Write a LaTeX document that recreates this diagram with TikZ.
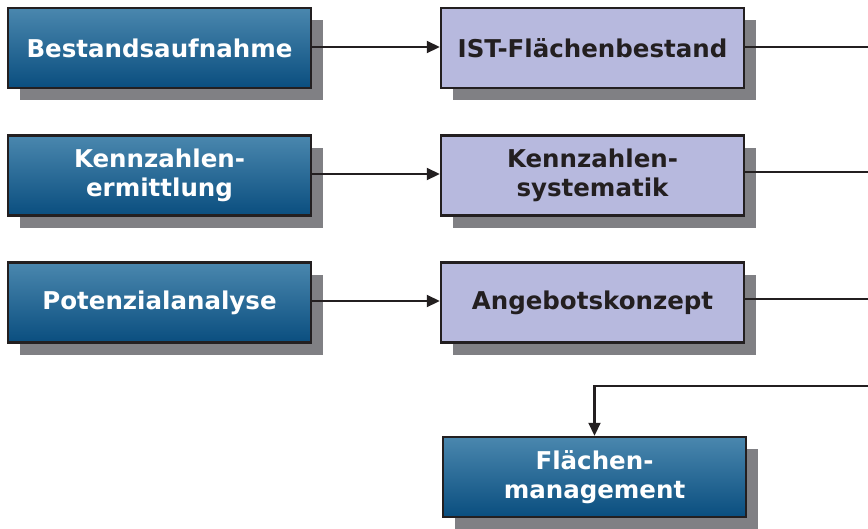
\documentclass[tikz,border=0pt]{standalone}
\usepackage{fontspec}
\setmainfont{DejaVu Sans}
\usepackage{xcolor}
\usetikzlibrary{arrows.meta,shadows}
\definecolor{boxtop}{HTML}{4A87AE}
\definecolor{boxbot}{HTML}{0A4E7F}
\definecolor{lila}{HTML}{B7B9DE}
\definecolor{shd}{HTML}{808084}
\definecolor{ink}{HTML}{231F20}
\tikzset{
  bx/.style={rectangle, draw=ink, line width=2.5pt, minimum width=303pt, minimum height=80pt,
    align=center, font=\fontsize{24.5}{29}\selectfont\bfseries,
    drop shadow={shadow xshift=12pt, shadow yshift=-12pt, fill=shd, opacity=1}},
  bluebox/.style={bx, top color=boxtop, bottom color=boxbot, text=white},
  lilabox/.style={bx, fill=lila, text=ink},
  ln/.style={draw=ink, line width=2.2pt},
  arr/.style={ln, -{Triangle[length=13pt,width=12pt]}},
  flow/.style={x=1pt, y=-1pt}
}
\begin{document}
\begin{tikzpicture}[flow]
  \useasboundingbox (0,0) rectangle (868,528);

  % Left column (blue)
  \node[bluebox] (bestand) at (159.5,48) {Bestandsaufnahme};
  \node[bluebox] (kennerm) at (159.5,175.5) {Kennzahlen-\\ermittlung};
  \node[bluebox] (potenz) at (159.5,302.5) {Potenzialanalyse};

  % Right column (lilac)
  \node[lilabox] (ist) at (592.5,48) {IST-Flächenbestand};
  \node[lilabox] (kennsys) at (592.5,175.5) {Kennzahlen-\\systematik};
  \node[lilabox] (angebot) at (592.5,302.5) {Angebotskonzept};

  % Result box
  \node[bluebox] (flaeche) at (594.5,477) {Flächen-\\management};

  % free ends on the right margin
  \coordinate (e1) at (868,47);
  \coordinate (e2) at (868,172);
  \coordinate (e3) at (868,299);
  \coordinate (e4) at (868,386);

  % arrows left -> right
  \draw[arr] (bestand.east |- 0,47) -- (ist.west |- 0,47);
  \draw[arr] (kennerm.east |- 0,174) -- (kennsys.west |- 0,174);
  \draw[arr] (potenz.east |- 0,301) -- (angebot.west |- 0,301);

  % outgoing lines
  \draw[ln] (ist.east |- e1) -- (e1);
  \draw[ln] (kennsys.east |- e2) -- (e2);
  \draw[ln] (angebot.east |- e3) -- (e3);
  \draw[arr] (e4) -| (flaeche.north);
\end{tikzpicture}
\end{document}
